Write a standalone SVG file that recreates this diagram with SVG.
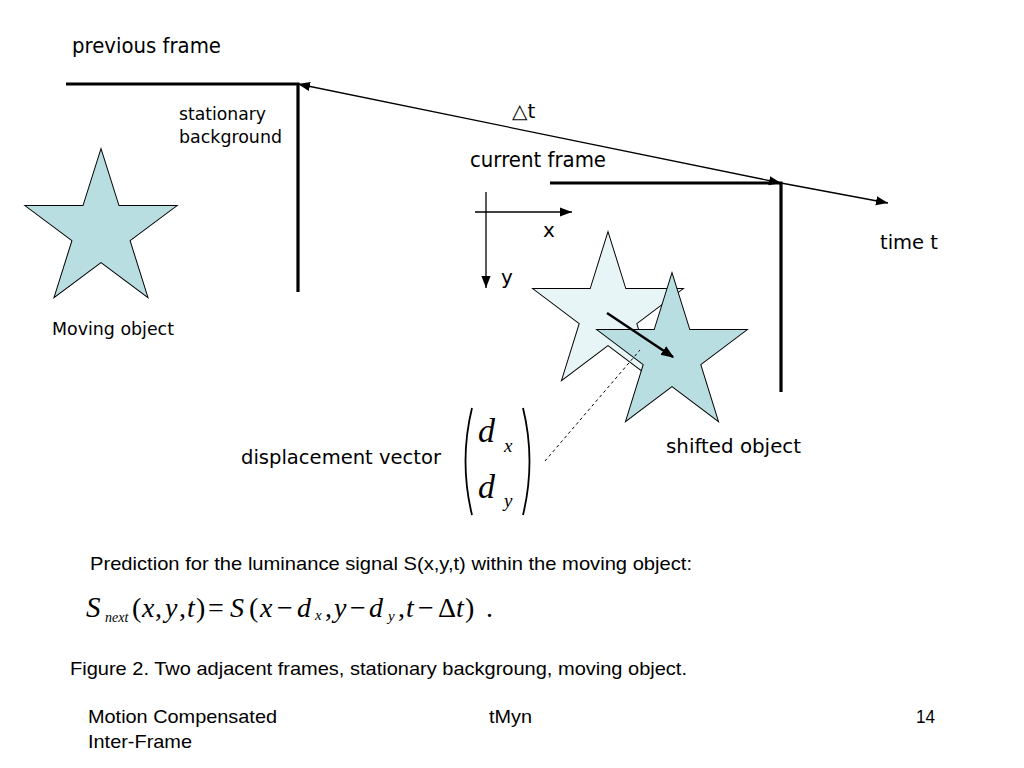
<svg xmlns="http://www.w3.org/2000/svg" width="1024" height="768" viewBox="0 0 1024 768">
<style>
.lbl{font-family:"DejaVu Sans","Verdana",sans-serif;fill:#000}
.cap{font-family:"Liberation Sans",Arial,sans-serif;fill:#000}
.math{font-family:"Liberation Serif","Times New Roman",serif;font-style:italic;fill:#000}
.mathu{font-family:"Liberation Serif","Times New Roman",serif;font-style:normal;fill:#000}
.it{font-style:italic}
.up{font-style:normal}
.frame{fill:none;stroke:#000;stroke-width:3.2}
.thin{fill:none;stroke:#000;stroke-width:1.3}
.star{stroke:#000;stroke-width:1}
</style>
<defs>
<marker id="ah" viewBox="0 0 10 10" refX="10" refY="5" markerWidth="12" markerHeight="12" markerUnits="userSpaceOnUse" orient="auto-start-reverse">
<path d="M0,1.2 L10,5 L0,8.8 z" fill="#000"/>
</marker>
<marker id="ahb" viewBox="0 0 10 10" refX="9" refY="5" markerWidth="13" markerHeight="13" markerUnits="userSpaceOnUse" orient="auto">
<path d="M0,1 L10,5 L0,9 z" fill="#000"/>
</marker>
<polygon id="starShape" points="0,-80 18,-24.7 76.1,-24.7 29.1,9.4 47,64.7 0,30.6 -47,64.7 -29.1,9.4 -76.1,-24.7 -18,-24.7"/>
</defs>
<rect width="1024" height="768" fill="#fff"/>

<g id="previous-frame">
<polyline class="frame" points="66,84 298,84 298,292"/>
<text class="lbl" x="72" y="53" font-size="20.5" textLength="149" lengthAdjust="spacingAndGlyphs">previous frame</text>
<text class="lbl" x="179" y="120" font-size="17.5" textLength="87" lengthAdjust="spacingAndGlyphs">stationary</text>
<text class="lbl" x="179" y="143" font-size="17.5" textLength="103" lengthAdjust="spacingAndGlyphs">background</text>
</g>

<g id="current-frame">
<polyline class="frame" points="550,183 781,183 781,392"/>
<text class="lbl" x="470" y="167" font-size="20.5" textLength="136" lengthAdjust="spacingAndGlyphs">current frame</text>
</g>

<g id="axes">
<line class="thin" x1="475" y1="212" x2="572" y2="212" marker-end="url(#ah)"/>
<line class="thin" x1="486" y1="192" x2="486" y2="288" marker-end="url(#ah)"/>
<text class="lbl" x="543" y="237" font-size="20">x</text>
<text class="lbl" x="501" y="284" font-size="20">y</text>
</g>

<g id="moving-object">
<use href="#starShape" class="star" fill="#B9DEE2" transform="translate(101,231) scale(1,1.03)"/>
<text class="lbl" x="52" y="335" font-size="17.5" textLength="122" lengthAdjust="spacingAndGlyphs">Moving object</text>
</g>

<g id="previous-position">
<use href="#starShape" class="star" fill="#E8F5F7" transform="translate(608,314) scale(0.99,1.03)"/>
</g>

<g id="shifted-object">
<use href="#starShape" class="star" fill="#B9DEE2" transform="translate(672,355) scale(0.99,1.03)"/>
<text class="lbl" x="666" y="453" font-size="20" textLength="135" lengthAdjust="spacingAndGlyphs">shifted object</text>
</g>

<g id="time-axis-labels">
<text class="lbl" x="512" y="118" font-size="20">△t</text>
<text class="lbl" x="880" y="249" font-size="20" textLength="58" lengthAdjust="spacingAndGlyphs">time t</text>
</g>

<g id="displacement-vector">
<text class="lbl" x="241" y="464" font-size="20" textLength="200" lengthAdjust="spacingAndGlyphs">displacement vector</text>
<path d="M472,408 Q459,461 472,515" fill="none" stroke="#000" stroke-width="1.8"/>
<path d="M523,408 Q536,461 523,515" fill="none" stroke="#000" stroke-width="1.8"/>
<text class="math" x="478" y="442" font-size="34">d</text>
<text class="math" x="504" y="452" font-size="19">x</text>
<text class="math" x="478" y="498" font-size="34">d</text>
<text class="math" x="504" y="507" font-size="19">y</text>
</g>

<g id="connectors">
<polyline class="thin" points="298,84 781,183 888,203" marker-start="url(#ah)" marker-mid="url(#ah)" marker-end="url(#ah)"/>
<line x1="607" y1="313" x2="673" y2="357" stroke="#000" stroke-width="2.5" marker-end="url(#ahb)"/>
<line x1="545" y1="461" x2="640" y2="350" stroke="#000" stroke-width="1" stroke-dasharray="3,3"/>
</g>

<g id="equation">
<text class="cap" x="90" y="570" font-size="19" textLength="602" lengthAdjust="spacingAndGlyphs">Prediction for the luminance signal S(x,y,t) within the moving object:</text>
<text class="mathu" y="617" font-size="28"><tspan x="86" class="it" font-size="29">S</tspan><tspan x="105" y="622" class="it" font-size="14">next</tspan><tspan x="132" y="617">(</tspan><tspan x="142" class="it">x</tspan><tspan x="155">,</tspan><tspan x="165" class="it">y</tspan><tspan x="179">,</tspan><tspan x="187" class="it">t</tspan><tspan x="196">)</tspan><tspan x="208">=</tspan><tspan x="230" class="it">S</tspan><tspan x="249">(</tspan><tspan x="260" class="it">x</tspan><tspan x="277">−</tspan><tspan x="297" class="it">d</tspan><tspan x="315" y="620" class="it" font-size="15">x</tspan><tspan x="325" y="617">,</tspan><tspan x="334" class="it">y</tspan><tspan x="350">−</tspan><tspan x="369" class="it">d</tspan><tspan x="388" y="621" class="it" font-size="15">y</tspan><tspan x="398" y="617">,</tspan><tspan x="406" class="it">t</tspan><tspan x="418">−</tspan><tspan x="438">Δ</tspan><tspan x="456" class="it">t</tspan><tspan x="465">)</tspan><tspan x="486">.</tspan></text>
<text class="cap" x="70" y="675" font-size="19" textLength="617" lengthAdjust="spacingAndGlyphs">Figure 2. Two adjacent frames, stationary backgroung, moving object.</text>
</g>

<g id="footer">
<text class="cap" x="88" y="723" font-size="19" textLength="189" lengthAdjust="spacingAndGlyphs">Motion Compensated</text>
<text class="cap" x="88" y="748" font-size="19" textLength="104" lengthAdjust="spacingAndGlyphs">Inter-Frame</text>
<text class="cap" x="489" y="723" font-size="19" textLength="43" lengthAdjust="spacingAndGlyphs">tMyn</text>
<text class="cap" x="916" y="723" font-size="19" textLength="19" lengthAdjust="spacingAndGlyphs">14</text>
</g>
</svg>
